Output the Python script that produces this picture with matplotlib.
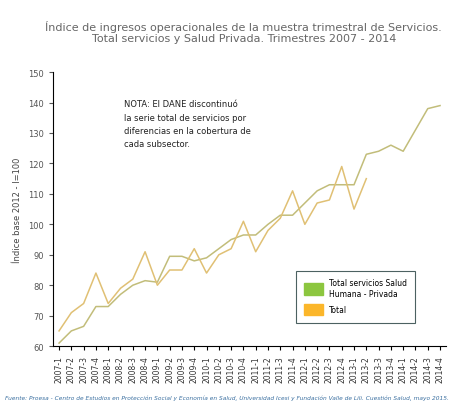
import matplotlib.pyplot as plt

labels = [f"{y}-{q}" for y in range(2007, 2015) for q in range(1, 5)]
salud = [61, 65, 66.5, 73, 73, 77, 80, 81.5, 81, 89.5, 89.5, 88, 89, 92, 95, 96.5,
         96.5, 100, 103, 103, 107, 111, 113, 113, 113, 123, 124, 126, 124, 131, 138, 139]
total = [65, 71, 74, 84, 74, 79, 82, 91, 80, 85, 85, 92, 84, 90, 92, 101,
         91, 98, 102, 111, 100, 107, 108, 119, 105, 115]

fig = plt.figure(figsize=(4.6, 4.06), dpi=100)
ax = fig.add_axes([0.115, 0.145, 0.855, 0.675])
x = list(range(len(labels)))
ax.plot(x, salud, color="#c2bd7a", lw=1.1)
ax.plot(x[:len(total)], total, color="#e0c074", lw=1.1)
ax.set_ylim(60, 150)
ax.set_xlim(-0.5, 31.5)
ax.set_yticks(range(60, 151, 10))
ax.set_xticks(x)
ax.set_xticklabels(labels, rotation=90, fontsize=5.5, color="#333333")
ax.tick_params(axis="y", labelsize=6, colors="#555555", length=3)
ax.tick_params(axis="x", length=3)
for s in ["top", "right"]:
    ax.spines[s].set_visible(False)
ax.set_ylabel("Índice base 2012 - I=100", fontsize=6, color="#444444")

fig.text(0.53, 0.92, "Índice de ingresos operacionales de la muestra trimestral de Servicios.\n"
         "Total servicios y Salud Privada. Trimestres 2007 - 2014",
         ha="center", va="center", fontsize=8, color="#666666")
ax.text(5.3, 141, "NOTA: El DANE discontinuó\nla serie total de servicios por\n"
        "diferencias en la cobertura de\ncada subsector.",
        fontsize=6, va="top", linespacing=1.6, color="#222222")

h1 = plt.Rectangle((0, 0), 1, 1, color="#8cc63f")
h2 = plt.Rectangle((0, 0), 1, 1, color="#fbb62a")
leg = ax.legend([h1, h2], ["Total servicios Salud\nHumana - Privada", "Total"],
                loc="lower right", bbox_to_anchor=(0.93, 0.07), fontsize=5.5,
                fancybox=False, edgecolor="#1f3a3a", handlelength=2.5, handleheight=2,
                borderpad=1, labelspacing=0.8)
leg.get_frame().set_linewidth(0.8)

fig.text(0.01, 0.015, "Fuente: Proesa - Centro de Estudios en Protección Social y Economía en Salud, "
         "Universidad Icesi y Fundación Valle de Lili. Cuestión Salud, mayo 2015.",
         fontsize=4.2, style="italic", color="#3a6fa0")
fig.savefig("out.png", dpi=100)
